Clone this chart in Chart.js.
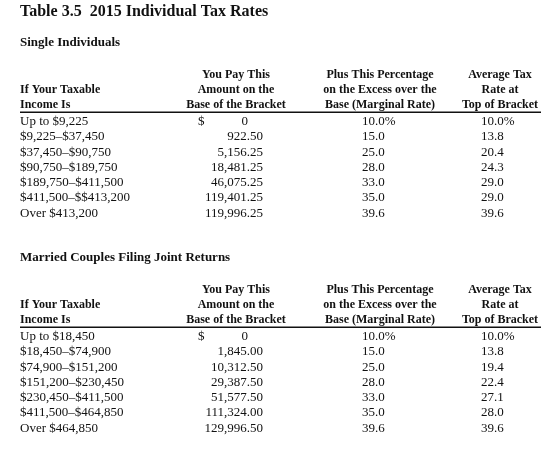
<!DOCTYPE html>
<html>
<head>
<meta charset="utf-8">
<script src="https://cdn.jsdelivr.net/npm/chart.js@4.4.1/dist/chart.umd.min.js"></script>
<style>
  html, body { margin: 0; padding: 0; background: #ffffff; }
  #wrap { width: 550px; height: 472px; position: relative; }
</style>
</head>
<body>
<div id="wrap"><canvas id="c" width="550" height="472"></canvas></div>
<script>
// ---------- DATA ----------
const tableTitle = "Table 3.5  2015 Individual Tax Rates";
const sectionTitles = ["Single Individuals", "Married Couples Filing Joint Returns"];
const headerIncome = ["If Your Taxable", "Income Is"];
const headerBase = ["You Pay This", "Amount on the", "Base of the Bracket"];
const headerMarginal = ["Plus This Percentage", "on the Excess over the", "Base (Marginal Rate)"];
const headerAverage = ["Average Tax", "Rate at", "Top of Bracket"];

const singleBrackets = ["Up to $9,225", "$9,225\u2013$37,450", "$37,450\u2013$90,750", "$90,750\u2013$189,750",
  "$189,750\u2013$411,500", "$411,500\u2013$$413,200", "Over $413,200"];
const singleBase = [0, 922.50, 5156.25, 18481.25, 46075.25, 119401.25, 119996.25];
const singleMarginal = [10.0, 15.0, 25.0, 28.0, 33.0, 35.0, 39.6];
const singleAverage = [10.0, 13.8, 20.4, 24.3, 29.0, 29.0, 39.6];

const marriedBrackets = ["Up to $18,450", "$18,450\u2013$74,900", "$74,900\u2013$151,200", "$151,200\u2013$230,450",
  "$230,450\u2013$411,500", "$411,500\u2013$464,850", "Over $464,850"];
const marriedBase = [0, 1845.00, 10312.50, 29387.50, 51577.50, 111324.00, 129996.50];
const marriedMarginal = [10.0, 15.0, 25.0, 28.0, 33.0, 35.0, 39.6];
const marriedAverage = [10.0, 13.8, 19.4, 22.4, 27.1, 28.0, 39.6];

// ---------- LAYOUT (scale units) ----------
const colX = { income: 20, dollar: 198, zero: 248, base: 263, marginal: 362, average: 481,
               baseHead: 236, marginalHead: 380, averageHead: 500, ruleEnd: 541 };
const rowY = { title: 0.79, section: 2.82, head: [4.93, 5.92, 6.9], rule: 7.36, data0: 8.0, block: 14.12 };

const SERIF = '"Liberation Serif", "Times New Roman", serif';
const INK = '#111111';

const fmtBase = v => v === 0 ? '0' : v.toLocaleString('en-US', { minimumFractionDigits: 2, maximumFractionDigits: 2 });
const fmtPct = (v, i) => v.toFixed(1) + (i === 0 ? '%' : '');

const tables = [
  { title: sectionTitles[0], brackets: singleBrackets, base: singleBase, marginal: singleMarginal, average: singleAverage },
  { title: sectionTitles[1], brackets: marriedBrackets, base: marriedBase, marginal: marriedMarginal, average: marriedAverage }
];

const tablePlugin = {
  id: 'taxTable',
  afterDraw(chart) {
    const ctx = chart.ctx;
    const xs = chart.scales.x, ys = chart.scales.y;
    const X = v => xs.getPixelForValue(v);
    const Y = v => ys.getPixelForValue(v);
    const text = (s, x, y, font, align) => {
      ctx.font = font; ctx.textAlign = align; ctx.fillStyle = INK; ctx.textBaseline = 'middle';
      ctx.fillText(s, X(x), Y(y));
    };
    ctx.save();
    text(tableTitle, colX.income, rowY.title, 'bold 16px ' + SERIF, 'left');
    const headFont = 'bold 12px ' + SERIF;
    const cellFont = '13px ' + SERIF;
    tables.forEach((t, k) => {
      const off = k * rowY.block;
      text(t.title, colX.income, rowY.section + off, 'bold 13px ' + SERIF, 'left');
      headerIncome.forEach((h, j) => text(h, colX.income, rowY.head[j + 1] + off, headFont, 'left'));
      headerBase.forEach((h, j) => text(h, colX.baseHead, rowY.head[j] + off, headFont, 'center'));
      headerMarginal.forEach((h, j) => text(h, colX.marginalHead, rowY.head[j] + off, headFont, 'center'));
      headerAverage.forEach((h, j) => text(h, colX.averageHead, rowY.head[j] + off, headFont, 'center'));
      // rule under headers
      ctx.beginPath();
      ctx.strokeStyle = INK; ctx.lineWidth = 1.6;
      const ry = Math.round(Y(rowY.rule + off)) + 0.2;
      ctx.moveTo(X(colX.income), ry); ctx.lineTo(X(colX.ruleEnd), ry); ctx.stroke();
      // data rows
      t.brackets.forEach((b, i) => {
        const y = rowY.data0 + i + off;
        text(b, colX.income, y, cellFont, 'left');
        if (t.base[i] === 0) {
          text('$', colX.dollar, y, cellFont, 'left');
          text(fmtBase(t.base[i]), colX.zero, y, cellFont, 'right');
        } else {
          text(fmtBase(t.base[i]), colX.base, y, cellFont, 'right');
        }
        text(fmtPct(t.marginal[i], i), colX.marginal, y, cellFont, 'left');
        text(fmtPct(t.average[i], i), colX.average, y, cellFont, 'left');
      });
    });
    ctx.restore();
  }
};

const bgPlugin = {
  id: 'bg',
  beforeDraw(chart) {
    const ctx = chart.ctx;
    ctx.save(); ctx.fillStyle = '#ffffff'; ctx.fillRect(0, 0, chart.width, chart.height); ctx.restore();
  }
};

new Chart(document.getElementById('c'), {
  type: 'scatter',
  data: { datasets: [] },
  options: {
    responsive: false,
    animation: false,
    devicePixelRatio: 1,
    layout: { padding: 0 },
    plugins: { legend: { display: false }, tooltip: { enabled: false }, title: { display: false } },
    scales: {
      x: { type: 'linear', min: 0, max: 550, display: false },
      y: { type: 'linear', min: 0, max: 31, reverse: true, display: false }
    }
  },
  plugins: [bgPlugin, tablePlugin]
});
</script>
</body>
</html>
